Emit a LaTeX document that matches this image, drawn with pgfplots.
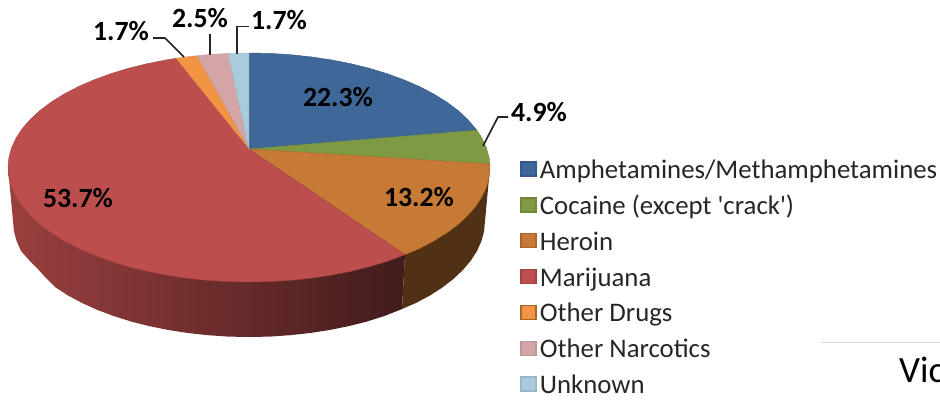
\documentclass[border=0pt]{standalone}
\usepackage{fontspec}
\setmainfont{Carlito}[Ligatures=TeXOff]
\usepackage{pgfplots}
\pgfplotsset{compat=1.18}
\definecolor{cBlue}{HTML}{3F6797}
\definecolor{cBlueE}{HTML}{35588A}
\definecolor{cGreen}{HTML}{7F9A43}
\definecolor{cGreenE}{HTML}{6E8A38}
\definecolor{cOrange}{HTML}{C77A36}
\definecolor{cOrangeE}{HTML}{A9652B}
\definecolor{cRed}{HTML}{BC4E4D}
\definecolor{cRedE}{HTML}{A34241}
\definecolor{cAmber}{HTML}{F19544}
\definecolor{cPink}{HTML}{D4A5A6}
\definecolor{cIce}{HTML}{A8CCDC}
\definecolor{cTxt}{HTML}{262626}
\begin{document}
\begin{tikzpicture}
\begin{axis}[
  width=940pt, height=396pt, scale only axis,
  xmin=0, xmax=940, ymin=0, ymax=396, y dir=reverse,
  ticks=none, axis line style={draw=none},
  clip=true, clip mode=global,
  legend cell align=left,
  legend style={at={(0.5535,0.595)}, anchor=north west, draw=none, fill=none,
    inner sep=0pt, outer sep=0pt, row sep=11.9pt, column sep=3pt,
    font={\fontsize{26.8}{26.8}\selectfont\color{cTxt}},
    nodes={text height=18pt, text depth=6pt, inner sep=0pt, outer sep=0pt, xshift=17pt}},
  legend image code/.code={\draw[#1, line width=1.6pt] (0pt,-3.5pt) rectangle (15pt,10.5pt);},
]
% side walls
\addplot[forget plot, draw=none, shade, left color=black!60!cOrange, right color=black!60!cOrange]
 coordinates {(490,167.5)(485,221)(484.1,231.1)(481.4,241.1)(477,251)(470.8,260.7)(462.9,270)(453.4,279)(442.3,287.5)(429.8,295.6)(415.9,303)(402,309)(405,254.7)};
\addplot[forget plot, draw=none, shade, left color=cRed!82!black, middle color=cRed!60!black, right color=cRed!35!black]
 coordinates {(405,254.7)(402,309)(384.4,316)(367,321.5)(348.7,326.1)(329.7,330)(310.1,333)(290,335.2)(269.6,336.6)(249,337)(228.4,336.6)(208,335.2)(187.9,333)(168.3,330)(149.3,326.1)(131,321.5)(113.6,316)(97.3,309.9)(82.1,303)(68.2,295.6)(55.7,287.5)(46,278)(37,268)(29,260)(21,251)(16.6,241.1)(13.9,231.1)(13,221)(8,167.5)};
% top face wedges
\addplot[forget plot, draw=cBlueE, line width=.4pt, fill=cBlue]
 coordinates {(249,149)(249,53)(270,53.4)(290.8,54.7)(311.4,56.9)(331.4,59.9)(350.8,63.7)(369.5,68.3)(387.2,73.7)(403.9,79.8)(419.4,86.5)(433.6,93.9)(446.4,101.8)(457.7,110.2)(467.4,119.1)(476.9,130.2)} --cycle;
\addplot[forget plot, draw=cGreenE, line width=.4pt, fill=cGreen]
 coordinates {(249,149)(476.9,130.2)(481.8,137.9)(486.3,147.6)(489.1,157.5)(489.9,164)} --cycle;
\addplot[forget plot, draw=cOrangeE, line width=.4pt, fill=cOrange]
 coordinates {(249,149)(489.9,164)(490,167.5)(489.1,177.5)(486.3,187.4)(481.8,197.1)(475.5,206.7)(467.4,215.9)(457.7,224.8)(446.4,233.2)(433.6,241.1)(419.4,248.5)(405,254.7)} --cycle;
\addplot[forget plot, draw=cRedE, line width=.4pt, fill=cRed]
 coordinates {(249,149)(405,254.7)(387.2,261.3)(369.5,266.7)(350.8,271.3)(331.4,275.1)(311.4,278.1)(290.8,280.3)(270,281.6)(249,282)(228,281.6)(207.2,280.3)(186.6,278.1)(166.6,275.1)(147.2,271.3)(128.5,266.7)(110.8,261.3)(94.1,255.2)(78.6,248.5)(64.4,241.1)(51.6,233.2)(40.3,224.8)(30.6,215.9)(22.5,206.7)(16.2,197.1)(11.7,187.4)(8.9,177.5)(8,167.5)(8.9,157.5)(11.7,147.6)(16.2,137.9)(22.5,128.3)(30.6,119.1)(40.3,110.2)(51.6,101.8)(64.4,93.9)(78.6,86.5)(94.1,79.8)(110.8,73.7)(128.5,68.3)(147.2,63.7)(166.6,59.9)(176,58.3)} --cycle;
\addplot[forget plot, draw=cAmber!85!black, line width=.3pt, fill=cAmber]
 coordinates {(249,149)(176,58.3)(186.6,56.9)(197,55.7)} --cycle;
\addplot[forget plot, draw=cPink!90!black, line width=.3pt, fill=cPink]
 coordinates {(249,149)(197,55.7)(207.2,54.7)(228,53.4)} --cycle;
\addplot[forget plot, draw=cIce!90!black, line width=.3pt, fill=cIce]
 coordinates {(249,149)(228,53.4)(249,53)} --cycle;
% leader lines
\addplot[forget plot, black!85, line width=1.7pt] coordinates {(153,38)(165,38)(184,57)};
\addplot[forget plot, black!85, line width=1.7pt] coordinates {(210,34)(210,55)};
\addplot[forget plot, black!85, line width=1.7pt] coordinates {(249,26.5)(237,26.5)(237,54)};
\addplot[forget plot, black!85, line width=1.7pt] coordinates {(508,117)(498,117)(483,146)};
% faint rule behind "Vic"
\addplot[forget plot, black!15, line width=1pt] coordinates {(821,342.5)(940,342.5)};
% data labels
\node[font={\fontsize{27.8}{27.8}\selectfont\bfseries}] at (axis cs:338,97) {22.3\%};
\node[font={\fontsize{27.8}{27.8}\selectfont\bfseries}] at (axis cs:539,112) {4.9\%};
\node[font={\fontsize{27.8}{27.8}\selectfont\bfseries}] at (axis cs:419,197) {13.2\%};
\node[font={\fontsize{27.8}{27.8}\selectfont\bfseries}] at (axis cs:78,198) {53.7\%};
\node[font={\fontsize{27.8}{27.8}\selectfont\bfseries}] at (axis cs:121,31) {1.7\%};
\node[font={\fontsize{27.8}{27.8}\selectfont\bfseries}] at (axis cs:200,18) {2.5\%};
\node[font={\fontsize{27.8}{27.8}\selectfont\bfseries}] at (axis cs:279,20) {1.7\%};
\node[anchor=base west, inner sep=0pt, font={\fontsize{37}{37}\selectfont}] at (axis cs:899,382) {Vic};
% legend
\addlegendimage{draw=cBlueE, fill=cBlue}
\addlegendentry{Amphetamines/Methamphetamines}
\addlegendimage{draw=cGreenE, fill=cGreen}
\addlegendentry{Cocaine (except 'crack')}
\addlegendimage{draw=cOrangeE, fill=cOrange}
\addlegendentry{Heroin}
\addlegendimage{draw=cRedE, fill=cRed}
\addlegendentry{Marijuana}
\addlegendimage{draw=cOrangeE, fill=cAmber}
\addlegendentry{Other Drugs}
\addlegendimage{draw=cPink!90!black, fill=cPink}
\addlegendentry{Other Narcotics}
\addlegendimage{draw=cIce!90!black, fill=cIce}
\addlegendentry{Unknown}
\end{axis}
\end{tikzpicture}
\end{document}
